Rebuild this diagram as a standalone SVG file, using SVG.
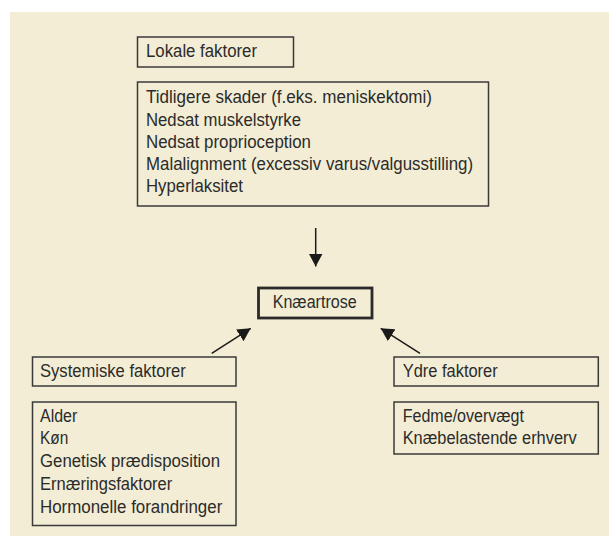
<svg xmlns="http://www.w3.org/2000/svg" width="609" height="536" viewBox="0 0 609 536">
<defs>
<style>
.box{fill:none;stroke:#3a3a3a;stroke-width:1.5}
.main{fill:none;stroke:#2a2a2a;stroke-width:2.8}
text{font-family:"Liberation Sans",Arial,sans-serif;font-size:17.5px;fill:#2b2b2b}
.con{stroke:#1a1a1a;stroke-width:1.5;fill:none}
</style>
<marker id="ah" markerWidth="13" markerHeight="14" refX="13" refY="7" orient="auto" markerUnits="userSpaceOnUse">
<path d="M0,0 L13,7 L0,14 Z" fill="#1a1a1a"/>
</marker>
</defs>
<rect x="10" y="12" width="599" height="524" fill="#F2EDD4"/>
<g id="lokale">
<rect class="box" x="137.5" y="37" width="156" height="30"/>
<text x="146" y="57" textLength="111" lengthAdjust="spacingAndGlyphs">Lokale faktorer</text>
</g>
<g id="lokale-liste">
<rect class="box" x="137.5" y="82" width="351" height="124"/>
<text x="146" y="103.3" textLength="286" lengthAdjust="spacingAndGlyphs">Tidligere skader (f.eks. meniskektomi)</text>
<text x="146" y="125.5" textLength="155" lengthAdjust="spacingAndGlyphs">Nedsat muskelstyrke</text>
<text x="146" y="147.7" textLength="165" lengthAdjust="spacingAndGlyphs">Nedsat proprioception</text>
<text x="146" y="170" textLength="327" lengthAdjust="spacingAndGlyphs">Malalignment (excessiv varus/valgusstilling)</text>
<text x="146" y="192.3" textLength="97" lengthAdjust="spacingAndGlyphs">Hyperlaksitet</text>
</g>
<g id="knaeartrose">
<rect class="main" x="258.5" y="288" width="113.5" height="30"/>
<text x="272.7" y="307.5" textLength="84" lengthAdjust="spacingAndGlyphs">Knæartrose</text>
</g>
<g id="systemiske">
<rect class="box" x="32.5" y="357" width="203.5" height="29"/>
<text x="40" y="376.7" textLength="145.7" lengthAdjust="spacingAndGlyphs">Systemiske faktorer</text>
</g>
<g id="systemiske-liste">
<rect class="box" x="32.5" y="402" width="203.5" height="123.5"/>
<text x="40" y="421.7" textLength="37.3" lengthAdjust="spacingAndGlyphs">Alder</text>
<text x="40" y="444.3" textLength="28.3" lengthAdjust="spacingAndGlyphs">Køn</text>
<text x="40" y="467.3" textLength="180" lengthAdjust="spacingAndGlyphs">Genetisk prædisposition</text>
<text x="40" y="490" textLength="132.3" lengthAdjust="spacingAndGlyphs">Ernæringsfaktorer</text>
<text x="40" y="512.7" textLength="182.3" lengthAdjust="spacingAndGlyphs">Hormonelle forandringer</text>
</g>
<g id="ydre">
<rect class="box" x="394" y="357" width="204.3" height="29"/>
<text x="402.7" y="376.7" textLength="95" lengthAdjust="spacingAndGlyphs">Ydre faktorer</text>
</g>
<g id="ydre-liste">
<rect class="box" x="394" y="402" width="204.3" height="52"/>
<text x="402.7" y="421.7" textLength="121.3" lengthAdjust="spacingAndGlyphs">Fedme/overvægt</text>
<text x="402.7" y="444.3" textLength="174" lengthAdjust="spacingAndGlyphs">Knæbelastende erhverv</text>
</g>
<g id="connectors">
<line class="con" x1="315.7" y1="228" x2="315.7" y2="266.5" marker-end="url(#ah)"/>
<line class="con" x1="211.7" y1="353.3" x2="250.7" y2="328.3" marker-end="url(#ah)"/>
<line class="con" x1="420" y1="353.3" x2="380.7" y2="328.3" marker-end="url(#ah)"/>
</g>
</svg>
